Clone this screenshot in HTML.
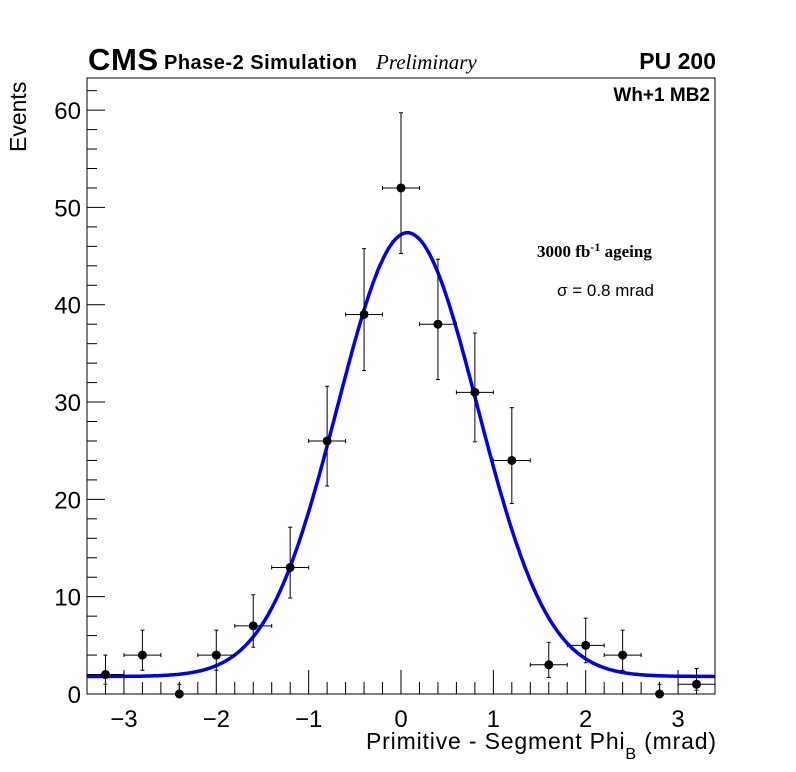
<!DOCTYPE html>
<html><head><meta charset="utf-8"><style>
body{margin:0;background:#fff}
svg{display:block;font-family:"Liberation Sans",sans-serif}
</style></head><body>
<svg id="c" width="796" height="772">
<rect width="796" height="772" fill="#fff"/>
<text x="88" y="70" font-size="31" font-weight="bold" textLength="70">CMS</text>
<text x="164" y="69" font-size="20" font-weight="bold" textLength="193">Phase-2 Simulation</text>
<text x="376" y="69" font-size="21" font-style="italic" font-family="Liberation Serif,serif">Preliminary</text>
<text x="716" y="69" font-size="23" font-weight="bold" text-anchor="end">PU 200</text>
<text x="710" y="101" font-size="19" font-weight="bold" text-anchor="end">Wh+1 MB2</text>
<text x="537" y="257" font-size="17" font-weight="bold" font-family="Liberation Serif,serif">3000 fb<tspan dy="-6" font-size="12">-1</tspan><tspan dy="6"> ageing</tspan></text>
<text x="557" y="296" font-size="17">σ = 0.8 mrad</text>
<text transform="translate(26,152) rotate(-90)" font-size="23">Events</text>
<text x="716" y="749" font-size="23" text-anchor="end" textLength="350">Primitive - Segment Phi<tspan dy="10" font-size="16">B</tspan><tspan dy="-10"> (mrad)</tspan></text>
<g id="g"></g>
</svg>
<script>
const binCenters=[-3.2,-2.8,-2.4,-2.0,-1.6,-1.2,-0.8,-0.4,0,0.4,0.8,1.2,1.6,2.0,2.4,2.8,3.2];
const counts=[2,4,0,4,7,13,26,39,52,38,31,24,3,5,4,0,1];
const fitConst=[1.8];
const fitAmp=[45.6];
const fitMean=[0.07];
const fitSigma=[0.76];
const xTicks=[-3,-2,-1,0,1,2,3];
const yTicks=[0,10,20,30,40,50,60];
const X0=-3.4,X1=3.4,Y0=0,Y1=63.3;
const L=87,R=715,T=78,B=694;
const sx=v=>L+(v-X0)/(X1-X0)*(R-L);
const sy=v=>B-(v-Y0)/(Y1-Y0)*(B-T);
const g=document.getElementById('g');const NS='http://www.w3.org/2000/svg';
function mk(t,a,p){const e=document.createElementNS(NS,t);for(const k in a)e.setAttribute(k,a[k]);(p||g).appendChild(e);return e;}
let f=mk('rect',{x:L,y:T,width:R-L,height:B-T,fill:'none',stroke:'#000','stroke-width':1});


for(let i=-17;i<=17;i++){const v=i*0.2;if(v<X0-1e-9||v>X1+1e-9)continue;const maj=i%5===0;
 mk('line',{x1:sx(v),x2:sx(v),y1:B,y2:B-(maj?24:12),stroke:'#000'});}
xTicks.forEach(v=>{const t=mk('text',{x:sx(v),y:727,'font-size':24,'text-anchor':'middle'});t.textContent=(v<0?'\u2212'+(-v):v);

});
for(let v=0;v<=Y1;v+=2){const maj=v%10===0;mk('line',{x1:L,x2:L+(maj?18:10),y1:sy(v),y2:sy(v),stroke:'#000'});}
yTicks.forEach(v=>{const t=mk('text',{x:81,y:sy(v)+9,'font-size':24,'text-anchor':'end'});t.textContent=v;

});
let d='';for(let i=0;i<=400;i++){const x=X0+(X1-X0)*i/400;const y=fitConst[0]+fitAmp[0]*Math.exp(-Math.pow(x-fitMean[0],2)/(2*fitSigma[0]*fitSigma[0]));d+=(i?'L':'M')+sx(x).toFixed(1)+' '+sy(y).toFixed(1);}
const fit=mk('path',{d:d,fill:'none',stroke:'#0000ee','stroke-width':3.5});


binCenters.forEach((x,i)=>{const n=counts[i];const hi=n+Math.sqrt(n+0.25)+0.5,lo=Math.max(0,n-Math.sqrt(n+0.25)+0.5);
 const grp=mk('g',{});
 
 
 const cx=sx(x),cy=sy(n);
 mk('line',{x1:cx,x2:cx,y1:sy(hi),y2:sy(lo),stroke:'#000'},grp);
 mk('line',{x1:cx-2,x2:cx+2,y1:sy(hi),y2:sy(hi),stroke:'#000'},grp);
 if(n>0){mk('line',{x1:cx-2,x2:cx+2,y1:sy(lo),y2:sy(lo),stroke:'#000'},grp);
  mk('line',{x1:sx(x-0.2),x2:sx(x+0.2),y1:cy,y2:cy,stroke:'#000'},grp);
  mk('line',{x1:sx(x-0.2),x2:sx(x-0.2),y1:cy-2,y2:cy+2,stroke:'#000'},grp);
  mk('line',{x1:sx(x+0.2),x2:sx(x+0.2),y1:cy-2,y2:cy+2,stroke:'#000'},grp);}
 mk('circle',{cx:cx,cy:cy,r:4.5,fill:'#000'},grp);
});
</script>
</body></html>
